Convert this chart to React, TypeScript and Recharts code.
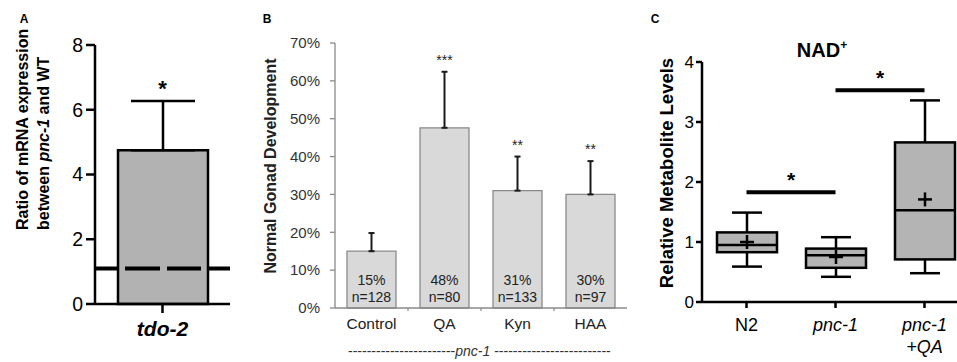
import React from 'react';
import {
  ComposedChart,
  Bar,
  XAxis,
  YAxis,
  ErrorBar,
  ReferenceLine,
  Scatter,
  LabelList,
} from 'recharts';

const FONT = '"Liberation Sans", Arial, Helvetica, sans-serif';

// ---------- Panel A data ----------
const geneCategories = ['tdo-2'];
const ratioValues = [4.75];
const ratioErrors = [1.52];
const ratioStars = ['*'];
const ratioTicks = [0, 2, 4, 6, 8];
const wtBaseline = 1.1;

// ---------- Panel B data ----------
const treatmentCategories = ['Control', 'QA', 'Kyn', 'HAA'];
const gonadPercent = [15, 47.6, 31, 30];
const gonadErrors = [4.8, 14.8, 9, 8.8];
const gonadCounts = [128, 80, 133, 97];
const gonadStars = ['', '***', '**', '**'];
const gonadTicks = [0, 10, 20, 30, 40, 50, 60, 70];

// ---------- Panel C data ----------
const strainCategories = ['N2', 'pnc-1', 'pnc-1 +QA'];
const strainItalic = [false, true, true];
const nadMin = [0.59, 0.42, 0.48];
const nadQ1 = [0.83, 0.57, 0.71];
const nadMedian = [0.95, 0.78, 1.53];
const nadQ3 = [1.16, 0.89, 2.66];
const nadMax = [1.49, 1.08, 3.36];
const nadMean = [1.0, 0.75, 1.71];
const nadTicks = [0, 1, 2, 3, 4];
const nadBrackets = [
  { from: 'N2', to: 'pnc-1', y: 1.83, mark: '*' },
  { from: 'pnc-1', to: 'pnc-1 +QA', y: 3.53, mark: '*' },
];

const dataA = geneCategories.map((name, i) => ({
  name,
  value: ratioValues[i],
  err: [0, ratioErrors[i]],
  top: ratioValues[i] + ratioErrors[i],
  star: ratioStars[i],
}));

const dataB = treatmentCategories.map((name, i) => ({
  name,
  value: gonadPercent[i],
  err: [0, gonadErrors[i]],
  top: gonadPercent[i] + gonadErrors[i],
  star: gonadStars[i],
  pctLabel: `${Math.round(gonadPercent[i])}%`,
  nLabel: `n=${gonadCounts[i]}`,
}));

const dataC = strainCategories.map((name, i) => ({
  name,
  italic: strainItalic[i],
  min: nadMin[i],
  q1: nadQ1[i],
  median: nadMedian[i],
  q3: nadQ3[i],
  max: nadMax[i],
  mean: nadMean[i],
}));

// ---------- helpers ----------
const makeStar = (fontSize: number, lift: number, fill: string, weight: string) => (props: any) => {
  const { cx, cy, payload } = props;
  if (!payload || !payload.star) return <g />;
  return (
    <text
      x={cx}
      y={cy - lift}
      textAnchor="middle"
      fontSize={fontSize}
      fontWeight={weight}
      fill={fill}
      fontFamily={FONT}
    >
      {payload.star}
    </text>
  );
};

const YLabelA = (props: any) => {
  const vb = props.viewBox || { x: 0, y: 45, width: 95, height: 259 };
  const bottom = vb.y + vb.height - 74;
  const x1 = vb.x + 28;
  const x2 = vb.x + 49;
  return (
    <g fontFamily={FONT} fontWeight="bold" fontSize={16} fill="#000">
      <text x={x1} y={bottom} transform={`rotate(-90, ${x1}, ${bottom})`} textAnchor="start">
        Ratio of mRNA expression
      </text>
      <text x={x2} y={bottom} transform={`rotate(-90, ${x2}, ${bottom})`} textAnchor="start">
        between <tspan fontStyle="italic">pnc-1</tspan> and WT
      </text>
    </g>
  );
};

const XTickA = (props: any) => {
  const { x, y, payload } = props;
  return (
    <text
      x={x}
      y={y + 23}
      textAnchor="middle"
      fontSize={21}
      fontWeight="bold"
      fontStyle="italic"
      fill="#000"
      fontFamily={FONT}
    >
      {payload.value}
    </text>
  );
};

const YLabelB = (props: any) => {
  const vb = props.viewBox || { x: 230, y: 43, width: 105, height: 265 };
  const x = vb.x + 46;
  const cy = vb.y + 123;
  return (
    <text
      x={x}
      y={cy}
      transform={`rotate(-90, ${x}, ${cy})`}
      textAnchor="middle"
      fontSize={16}
      fontWeight="bold"
      fill="#222"
      fontFamily={FONT}
    >
      Normal Gonad Development
    </text>
  );
};

const XTickB = (props: any) => {
  const { x, y, payload, index, width, visibleTicksCount } = props;
  const half =
    payload && typeof payload.offset === 'number' && payload.offset > 0
      ? payload.offset
      : width / (visibleTicksCount || treatmentCategories.length) / 2;
  const n = visibleTicksCount || treatmentCategories.length;
  return (
    <g>
      {index < n - 1 ? (
        <line x1={x + half} x2={x + half} y1={y} y2={y + 3} stroke="#8a8a8a" strokeWidth={1.2} />
      ) : null}
      <text
        x={x}
        y={y + 21}
        textAnchor="middle"
        fontSize={15.5}
        fill="#222"
        fontFamily={FONT}
      >
        {payload.value}
      </text>
    </g>
  );
};

const XLabelB = (props: any) => {
  const vb = props.viewBox || { x: 335, y: 308, width: 292, height: 54 };
  const x = vb.x + 13;
  const y = vb.y + 48;
  return (
    <text x={x} y={y} textAnchor="start" fontSize={14} fill="#333" fontFamily={FONT}>
      {'-'.repeat(23)}
      <tspan fontStyle="italic">pnc-1</tspan>
      {' ' + '-'.repeat(25)}
    </text>
  );
};

const makeInBar = (lift: number) => (props: any) => {
  const vb = props.viewBox && typeof props.viewBox.x === 'number' ? props.viewBox : props;
  const { x, y, width, height } = vb;
  const value = props.value;
  return (
    <text
      x={x + width / 2}
      y={y + height - lift}
      textAnchor="middle"
      fontSize={14}
      fill="#222"
      fontFamily={FONT}
    >
      {value}
    </text>
  );
};

const YLabelC = (props: any) => {
  const vb = props.viewBox || { x: 640, y: 62, width: 62, height: 240 };
  const x = vb.x + 33;
  const cy = vb.y + 111;
  return (
    <text
      x={x}
      y={cy}
      transform={`rotate(-90, ${x}, ${cy})`}
      textAnchor="middle"
      fontSize={18.5}
      fontWeight="bold"
      fill="#000"
      fontFamily={FONT}
    >
      Relative Metabolite Levels
    </text>
  );
};

const XTickC = (props: any) => {
  const { x, y, payload, index } = props;
  const lines = String(payload.value).split(' ');
  const italic = strainItalic[index];
  return (
    <text
      x={x}
      y={y + 23}
      textAnchor="middle"
      fontSize={18}
      fontStyle={italic ? 'italic' : 'normal'}
      fill="#000"
      fontFamily={FONT}
    >
      {lines.map((l, i) => (
        <tspan key={i} x={x} dy={i === 0 ? 0 : 22}>
          {l}
        </tspan>
      ))}
    </text>
  );
};

const BoxShape = (props: any) => {
  const { x, y, width, height, payload } = props;
  if (!payload) return <g />;
  const { min, max, q1, median, q3, mean } = payload;
  const py = (v: number) => y + (height * (max - v)) / (max - min);
  const cx = x + width / 2;
  const cap = 15;
  const plus = 7;
  return (
    <g stroke="#000" strokeWidth={2.5} fill="none">
      <line x1={cx} x2={cx} y1={py(max)} y2={py(q3)} />
      <line x1={cx} x2={cx} y1={py(q1)} y2={py(min)} />
      <line x1={cx - cap} x2={cx + cap} y1={py(max)} y2={py(max)} />
      <line x1={cx - cap} x2={cx + cap} y1={py(min)} y2={py(min)} />
      <rect x={x} y={py(q3)} width={width} height={py(q1) - py(q3)} fill="#b4b4b4" />
      <line x1={x} x2={x + width} y1={py(median)} y2={py(median)} />
      <line x1={cx - plus} x2={cx + plus} y1={py(mean)} y2={py(mean)} />
      <line x1={cx} x2={cx} y1={py(mean) - plus} y2={py(mean) + plus} />
    </g>
  );
};

const BracketLabel = (props: any) => {
  const vb = props.viewBox || {};
  const cx = (vb.x || 0) + (vb.width || 0) / 2;
  const y = vb.y || 0;
  return (
    <text x={cx} y={y - 5} textAnchor="middle" fontSize={21} fontWeight="bold" fill="#000" fontFamily={FONT}>
      {props.mark}
    </text>
  );
};

const PanelLetter = ({ x, children }: any) => (
  <text x={x} y={23} textAnchor="middle" fontSize={12} fontWeight="bold" fill="#000" fontFamily={FONT}>
    {children}
  </text>
);

export default function App() {
  return (
    <div
      style={{
        position: 'absolute',
        left: 0,
        top: 0,
        width: 957,
        height: 362,
        overflow: 'hidden',
        background: '#fff',
        fontFamily: FONT,
      }}
    >
      {/* Panel A */}
      <div style={{ position: 'absolute', left: 0, top: 0 }}>
        <ComposedChart
          width={240}
          height={362}
          data={dataA}
          margin={{ top: 45, right: 10, bottom: 0, left: 0 }}
        >
          <YAxis
            width={95}
            domain={[0, 8]}
            ticks={ratioTicks}
            interval={0}
            tick={{ fontSize: 19.5, fill: '#000', fontFamily: FONT }}
            tickSize={9}
            tickMargin={3}
            axisLine={{ stroke: '#000', strokeWidth: 2.5 }}
            tickLine={{ stroke: '#000', strokeWidth: 2.5 }}
            label={<YLabelA />}
          />
          <XAxis
            dataKey="name"
            height={58}
            tick={<XTickA />}
            tickSize={9}
            tickMargin={0}
            axisLine={{ stroke: '#000', strokeWidth: 2.5 }}
            tickLine={{ stroke: '#000', strokeWidth: 2.5 }}
          />
          <Bar dataKey="value" barSize={90} fill="#b2b2b2" stroke="#000" strokeWidth={2.5} isAnimationActive={false}>
            <ErrorBar dataKey="err" width={32} stroke="#000" strokeWidth={2.5} direction="y" isAnimationActive={false} />
          </Bar>
          <ReferenceLine
            y={wtBaseline}
            stroke="#000"
            strokeWidth={4}
            strokeDasharray="22 8 35 7 34 7 40"
          />
          <Scatter dataKey="top" shape={makeStar(22, 5, '#000', 'bold')} isAnimationActive={false} />
        </ComposedChart>
      </div>

      {/* Panel B */}
      <div style={{ position: 'absolute', left: 230, top: 0 }}>
        <ComposedChart
          width={400}
          height={362}
          data={dataB}
          margin={{ top: 43, right: 3, bottom: 0, left: 0 }}
        >
          <YAxis
            width={105}
            domain={[0, 70]}
            ticks={gonadTicks}
            interval={0}
            tickFormatter={(v: number) => `${v}%`}
            tick={{ fontSize: 15, fill: '#333', fontFamily: FONT }}
            tickSize={5}
            tickMargin={10}
            axisLine={{ stroke: '#8a8a8a', strokeWidth: 1.3 }}
            tickLine={{ stroke: '#8a8a8a', strokeWidth: 1.3 }}
            label={<YLabelB />}
          />
          <XAxis
            dataKey="name"
            height={54}
            tick={<XTickB />}
            tickSize={0}
            tickMargin={0}
            interval={0}
            axisLine={{ stroke: '#8a8a8a', strokeWidth: 1.3 }}
            tickLine={false}
            label={<XLabelB />}
          />
          <Bar dataKey="value" barSize={49} fill="#d9d9d9" stroke="#8a8a8a" strokeWidth={1.3} isAnimationActive={false}>
            <ErrorBar dataKey="err" width={3} stroke="#1a1a1a" strokeWidth={2} direction="y" isAnimationActive={false} />
            <LabelList dataKey="pctLabel" content={makeInBar(23)} />
            <LabelList dataKey="nLabel" content={makeInBar(6)} />
          </Bar>
          <Scatter dataKey="top" shape={makeStar(14, 7, '#222', 'normal')} isAnimationActive={false} />
        </ComposedChart>
      </div>

      {/* Panel C */}
      <div style={{ position: 'absolute', left: 640, top: 0 }}>
        <ComposedChart
          width={330}
          height={362}
          data={dataC}
          margin={{ top: 62, right: 1, bottom: 0, left: 0 }}
        >
          <YAxis
            width={62}
            domain={[0, 4]}
            ticks={nadTicks}
            interval={0}
            tick={{ fontSize: 17, fill: '#000', fontFamily: FONT }}
            tickSize={6}
            tickMargin={2}
            axisLine={{ stroke: '#000', strokeWidth: 2.5 }}
            tickLine={{ stroke: '#000', strokeWidth: 2.5 }}
            label={<YLabelC />}
          />
          <XAxis
            dataKey="name"
            height={60}
            tick={<XTickC />}
            tickSize={6}
            tickMargin={0}
            interval={0}
            axisLine={{ stroke: '#000', strokeWidth: 2.5 }}
            tickLine={{ stroke: '#000', strokeWidth: 2.5 }}
          />
          <Bar
            dataKey={(d: any) => [d.min, d.max]}
            barSize={60}
            shape={<BoxShape />}
            isAnimationActive={false}
          />
          {nadBrackets.map((b, i) => (
            <ReferenceLine
              key={i}
              segment={[
                { x: b.from, y: b.y },
                { x: b.to, y: b.y },
              ]}
              stroke="#000"
              strokeWidth={4}
              label={<BracketLabel mark={b.mark} />}
            />
          ))}
        </ComposedChart>
      </div>

      {/* Panel letters and title */}
      <svg width={957} height={362} style={{ position: 'absolute', left: 0, top: 0, pointerEvents: 'none' }}>
        <PanelLetter x={24}>A</PanelLetter>
        <PanelLetter x={267}>B</PanelLetter>
        <PanelLetter x={655}>C</PanelLetter>
        <text x={822} y={57} textAnchor="middle" fontSize={20} fontWeight="bold" fill="#000" fontFamily={FONT}>
          NAD
          <tspan dy={-8} fontSize={12}>
            +
          </tspan>
        </text>
      </svg>
    </div>
  );
}
